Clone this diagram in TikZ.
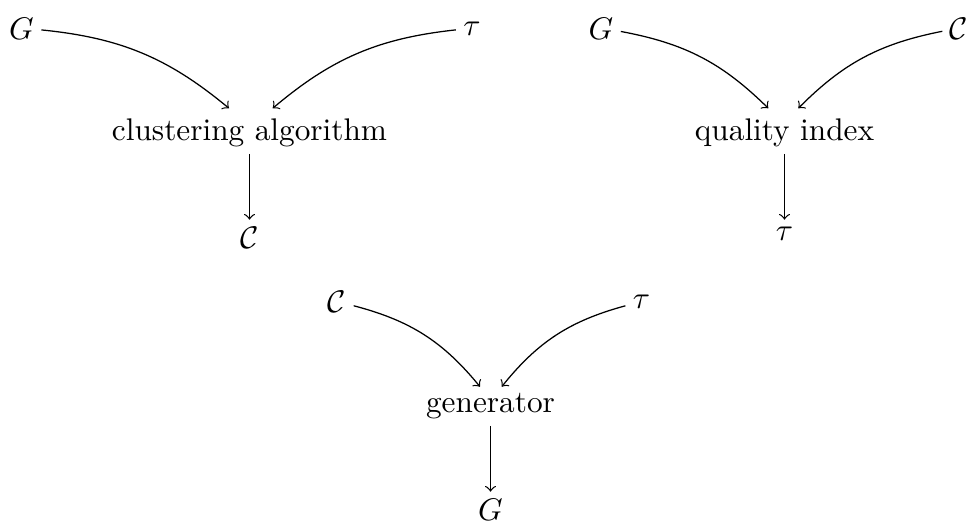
\documentclass[tikz,border=0pt]{standalone}
\usetikzlibrary{positioning,calc}
\begin{document}
\begin{tikzpicture}[x=0.3195pt,y=-0.3195pt,
  every node/.style={inner sep=2.2pt},
  arr/.style={->},
  down/.style={below=21pt of #1}]
\useasboundingbox (0,0) rectangle (971,523);
% group 1
\node (g1) at (21.5,28.5) {$G$};
\node (t1) at (472,28.5) {$\tau$};
\node[anchor=base] (ca) at (249.5,140) {clustering algorithm};
\node[down=ca] (c1) {$\mathcal{C}$};
\coordinate (ca-l) at ($(ca.base)+(-20.5,-31.7)$);
\coordinate (ca-r) at ($(ca.base)+(23.2,-31.7)$);
\draw[arr] (g1) to[bend left=17] (ca-l);
\draw[arr] (t1) to[bend right=17] (ca-r);
\draw[arr] (ca) -- (c1);
% group 2
\node (g2) at (601,28.5) {$G$};
\node (c2) at (959,28.5) {$\mathcal{C}$};
\node[anchor=base] (qi) at (784.5,140) {quality index};
\node[down=qi] (t2) {$\tau$};
\coordinate (qi-l) at ($(qi.base)+(-16.2,-31.7)$);
\coordinate (qi-r) at ($(qi.base)+(13.8,-31.7)$);
\draw[arr] (g2) to[bend left=17] (qi-l);
\draw[arr] (c2) to[bend right=17] (qi-r);
\draw[arr] (qi) -- (t2);
% group 3
\node (c3) at (337,302) {$\mathcal{C}$};
\node (t3) at (641.5,302) {$\tau$};
\node[anchor=base] (gen) at (490.5,412) {generator};
\node[down=gen] (g3) {$G$};
\coordinate (gen-l) at ($(gen.base)+(-10.5,-25.3)$);
\coordinate (gen-r) at ($(gen.base)+(11.2,-25.3)$);
\draw[arr] (c3) to[bend left=18] (gen-l);
\draw[arr] (t3) to[bend right=18] (gen-r);
\draw[arr] (gen) -- (g3);
\end{tikzpicture}
\end{document}
